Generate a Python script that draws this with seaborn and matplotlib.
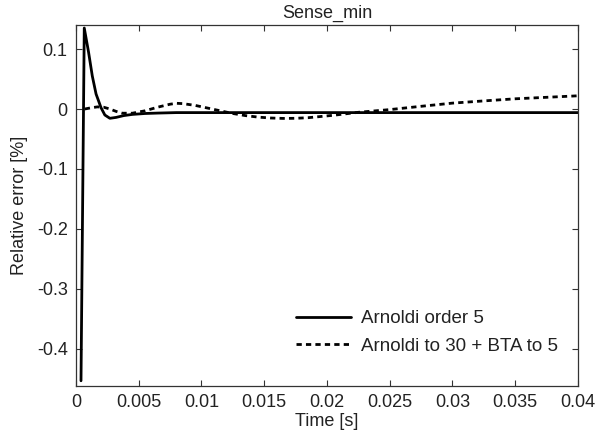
import numpy as np
import pandas as pd
import matplotlib
matplotlib.use("Agg")
import matplotlib.pyplot as plt
import seaborn as sns
from matplotlib.ticker import FuncFormatter

# --- data ---
t_arnoldi = [0.0004, 0.00066, 0.001, 0.0013, 0.0016, 0.002, 0.0023, 0.0027,
             0.0032, 0.0038, 0.0045, 0.0055, 0.0065, 0.008, 0.01, 0.02, 0.03, 0.04]
v_arnoldi = [-0.453, 0.135, 0.095, 0.055, 0.025, 0.002, -0.01, -0.0155,
             -0.014, -0.011, -0.009, -0.0075, -0.0068, -0.006, -0.006, -0.006, -0.006, -0.006]

t_bta = [0.0007, 0.0012, 0.0017, 0.0022, 0.0027, 0.0032, 0.0037, 0.0045, 0.0055,
         0.0065, 0.0075, 0.008, 0.0085, 0.0095, 0.0105, 0.0115, 0.0125, 0.0135,
         0.0145, 0.0155, 0.0165, 0.0175, 0.0185, 0.0195, 0.0205, 0.0215, 0.0225,
         0.025, 0.0275, 0.03, 0.0325, 0.035, 0.0375, 0.04]
v_bta = [0.0, 0.002, 0.0035, 0.003, 0.0, -0.004, -0.007, -0.007, -0.003,
         0.003, 0.008, 0.0095, 0.009, 0.006, 0.0015, -0.003, -0.0075, -0.011,
         -0.0135, -0.015, -0.0157, -0.0155, -0.0145, -0.0125, -0.0105, -0.008, -0.0055,
         -0.001, 0.0045, 0.0098, 0.0135, 0.017, 0.0195, 0.022]

labels = ["Arnoldi order 5", "Arnoldi to 30 + BTA to 5"]
x_ticks = [0, 0.005, 0.01, 0.015, 0.02, 0.025, 0.03, 0.035, 0.04]
y_ticks = [-0.4, -0.3, -0.2, -0.1, 0, 0.1]

df = pd.concat([
    pd.DataFrame({"t": t_arnoldi, "v": v_arnoldi, "method": labels[0]}),
    pd.DataFrame({"t": t_bta, "v": v_bta, "method": labels[1]}),
])

sns.set_style("ticks")
plt.rcParams["font.family"] = ["Liberation Sans", "DejaVu Sans"]

fig = plt.figure(figsize=(5.95, 4.45), dpi=100)
ax = fig.add_axes([0.1277, 0.1326, 0.8437, 0.8112])

sns.lineplot(data=df, x="t", y="v", hue="method", style="method",
             palette=["black", "black"], dashes=[(None, None), (1.9, 1.5)],
             linewidth=2.0, ax=ax, sort=False, estimator=None)

ax.set_xlim(0, 0.04)
ax.set_ylim(-0.4617, 0.14)
ax.set_xticks(x_ticks)
ax.set_yticks(y_ticks)
fmt = FuncFormatter(lambda v, p: "0" if abs(v) < 1e-12 else f"{v:g}")
ax.xaxis.set_major_formatter(fmt)
ax.yaxis.set_major_formatter(fmt)
ax.tick_params(direction="in", top=True, right=True, labelsize=13, length=4,
               width=0.8, colors="#333333", labelcolor="#222222", pad=6)
for s in ax.spines.values():
    s.set_visible(True)
    s.set_color("#333333")
    s.set_linewidth(0.9)

ax.set_xlabel("Time [s]", fontsize=13, color="#222222", labelpad=1)
ax.set_ylabel("Relative error [%]", fontsize=13, color="#222222", labelpad=6)
ax.set_title("Sense_min", fontsize=13, pad=5, color="#222222")

leg = ax.legend(loc="lower right", bbox_to_anchor=(0.994, 0.04), frameon=False,
                fontsize=13.5, handlelength=2.9, labelspacing=0.55, handletextpad=0.55)
for txt in leg.get_texts():
    txt.set_color("#222222")
for h in leg.get_lines():
    h.set_linewidth(2.0)

fig.savefig("out.png", dpi=100)
